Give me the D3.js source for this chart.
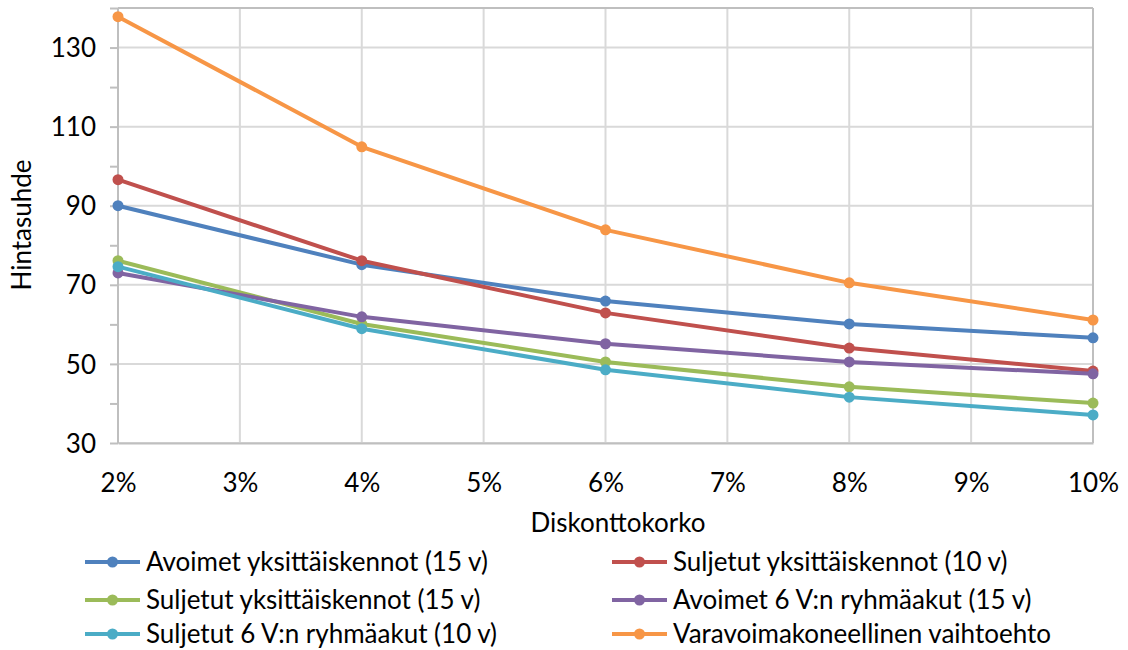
<!DOCTYPE html>
<html><head><meta charset="utf-8">
<script src="https://cdn.jsdelivr.net/npm/d3@7"></script>
<style>body{margin:0;background:#fff}svg{display:block;font-family:Lato,"Open Sans",sans-serif}</style>
</head><body><svg id="c" width="1128" height="650"></svg>
<script>
const rates = [0.02, 0.04, 0.06, 0.08, 0.10];
const xTicks = [0.02,0.03,0.04,0.05,0.06,0.07,0.08,0.09,0.10];
const yTicks = [30,50,70,90,110,130];
const seriesNames = ["Avoimet yksittäiskennot (15 v)","Suljetut yksittäiskennot (10 v)","Suljetut yksittäiskennot (15 v)","Avoimet 6 V:n ryhmäakut (15 v)","Suljetut 6 V:n ryhmäakut (10 v)","Varavoimakoneellinen vaihtoehto"];
const seriesColors = ["#4f81bd","#c0504d","#9bbb59","#8064a2","#4bacc6","#f79646"];
const avoimetYks15 = [90.0, 75.1, 65.9, 60.1, 56.6];
const suljetutYks10 = [96.6, 76.1, 62.9, 54.0, 48.2];
const suljetutYks15 = [76.1, 60.1, 50.5, 44.2, 40.1];
const avoimetRyhma15 = [73.0, 61.9, 55.1, 50.5, 47.5];
const suljetutRyhma10 = [74.6, 58.9, 48.5, 41.6, 37.1];
const varavoima = [137.8, 104.9, 83.9, 70.5, 61.1];
const seriesValues = [avoimetYks15, suljetutYks10, suljetutYks15, avoimetRyhma15, suljetutRyhma10, varavoima];

const FS = 26;
const svg = d3.select("#c");
const L=118, R=1093, T=8, B=443;
const x = d3.scaleLinear().domain([0.02,0.10]).range([L,R]);
const y = d3.scaleLinear().domain([30,140]).range([B,T]);

// gridlines
svg.append("g").selectAll("line").data(xTicks).join("line")
  .attr("x1",d=>x(d)).attr("x2",d=>x(d)).attr("y1",T).attr("y2",B)
  .attr("stroke","#d9d9d9").attr("stroke-width",2);
svg.append("g").selectAll("line").data(yTicks).join("line")
  .attr("x1",L).attr("x2",R).attr("y1",d=>y(d)).attr("y2",d=>y(d))
  .attr("stroke","#d9d9d9").attr("stroke-width",2);
// border top/right
svg.append("line").attr("x1",L).attr("x2",R).attr("y1",T).attr("y2",T).attr("stroke","#bfbfbf").attr("stroke-width",2);
svg.append("line").attr("x1",R).attr("x2",R).attr("y1",T).attr("y2",B).attr("stroke","#bfbfbf").attr("stroke-width",2);

// y axis
const yAxis = d3.axisLeft(y).tickValues(d3.range(30,141,10)).tickSize(8).tickFormat(d=> yTicks.includes(d)? d : "");
const gy = svg.append("g").attr("transform",`translate(${L},0)`).call(yAxis);
gy.select(".domain").attr("stroke","#bfbfbf").attr("stroke-width",2).attr("d",`M0,${T}V${B}`);
gy.selectAll(".tick line").attr("stroke","#bfbfbf").attr("stroke-width",2);
gy.selectAll(".tick text").attr("font-size",FS).attr("font-family","Lato").attr("fill","#000").attr("x",-22).attr("dy","0.35em");

// x axis
const xAxis = d3.axisBottom(x).tickValues(xTicks).tickSize(0).tickFormat(d=>Math.round(d*100)+"%");
const gx = svg.append("g").attr("transform",`translate(0,${B})`).call(xAxis);
gx.select(".domain").attr("stroke","#bfbfbf").attr("stroke-width",2);
gx.selectAll(".tick text").attr("font-size",FS).attr("font-family","Lato").attr("fill","#000").attr("y",40).attr("dy","0.35em");

// titles
svg.append("text").attr("x",618).attr("y",532).attr("text-anchor","middle").attr("font-size",FS).text("Diskonttokorko");
svg.append("text").attr("transform","translate(31,225) rotate(-90)").attr("text-anchor","middle").attr("font-size",FS).text("Hintasuhde");

// lines
const line = d3.line().x((d,i)=>x(rates[i])).y(d=>y(d));
seriesValues.forEach((vals,k)=>{
  svg.append("path").attr("d",line(vals)).attr("fill","none").attr("stroke",seriesColors[k]).attr("stroke-width",4).attr("stroke-linejoin","round");
  svg.append("g").selectAll("circle").data(vals).join("circle")
    .attr("cx",(d,i)=>x(rates[i])).attr("cy",d=>y(d)).attr("r",5.5).attr("fill",seriesColors[k]);
});

// legend
const legX=[85,612], legY=[562,600,634];
seriesNames.forEach((n,k)=>{
  const lx=legX[k%2], ly=legY[Math.floor(k/2)];
  svg.append("line").attr("x1",lx).attr("x2",lx+55).attr("y1",ly).attr("y2",ly).attr("stroke",seriesColors[k]).attr("stroke-width",4);
  svg.append("circle").attr("cx",lx+27.5).attr("cy",ly).attr("r",5.5).attr("fill",seriesColors[k]);
  svg.append("text").attr("x",lx+61).attr("y",ly).attr("dy","0.35em").attr("font-size",FS).text(n);
});
</script></body></html>
